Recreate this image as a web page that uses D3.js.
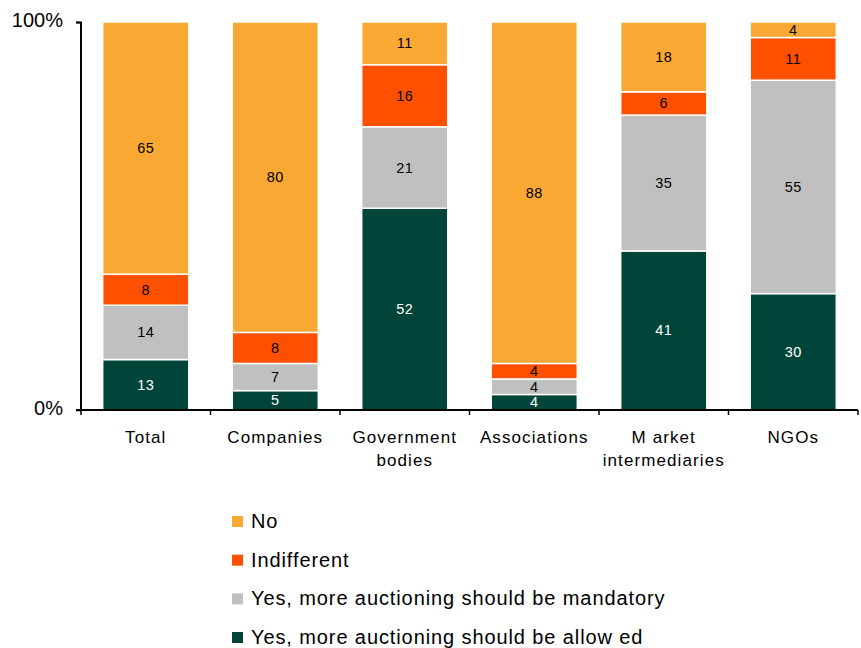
<!DOCTYPE html>
<html><head><meta charset="utf-8">
<script src="https://cdn.jsdelivr.net/npm/d3@7"></script>
<style>body{margin:0;background:#fff}svg{display:block;font-family:"Liberation Sans",Arial,sans-serif}</style>
</head><body><svg id="c" width="861" height="648"></svg>
<script>
const categories = ["Total", "Companies", "Government bodies", "Associations", "Market intermediaries", "NGOs"];
const categoryLines = [["Total"], ["Companies"], ["Government", "bodies"], ["Associations"], ["M arket", "intermediaries"], ["NGOs"]];
const seriesNames = ["Yes, more auctioning should be allowed", "Yes, more auctioning should be mandatory", "Indifferent", "No"];
const allowed   = [13, 5, 52, 4, 41, 30];
const mandatory = [14, 7, 21, 4, 35, 55];
const indifferent = [8, 8, 16, 4, 6, 11];
const no        = [65, 80, 11, 88, 18, 4];
const yTicks = [0, 100];
const colors = ["#00443A", "#C0C0C0", "#FF5000", "#F9A833"];
const labelColors = ["#fff", "#000", "#000", "#000"];
const legendNames = ["No", "Indifferent", "Yes, more auctioning should be mandatory", "Yes, more auctioning should be allow ed"];
const legendColors = ["#F9A833", "#FF5000", "#C0C0C0", "#00443A"];

const svg = d3.select("#c");
const x = d3.scaleBand().domain(categories).range([81, 858]).paddingInner(0.335).paddingOuter(0.1675);
const y = d3.scaleLinear().domain([0, 100]).range([410, 22]);

const rows = categories.map((c, i) => ({cat: c, v0: allowed[i], v1: mandatory[i], v2: indifferent[i], v3: no[i]}));
const stack = d3.stack().keys(["v0", "v1", "v2", "v3"])(rows);

stack.forEach((layer, si) => {
  const g = svg.append("g");
  g.selectAll("rect").data(layer).join("rect")
    .attr("x", d => x(d.data.cat))
    .attr("width", x.bandwidth())
    .attr("y", d => y(d[1]))
    .attr("height", d => y(d[0]) - y(d[1]))
    .attr("fill", colors[si])
    .attr("stroke", "#fff").attr("stroke-width", 1.5);
  g.selectAll("text").data(layer).join("text")
    .attr("x", d => x(d.data.cat) + x.bandwidth() / 2)
    .attr("y", d => (y(d[0]) + y(d[1])) / 2 + 5)
    .attr("text-anchor", "middle")
    .attr("font-size", 14.5)
    .attr("letter-spacing", 0.5)
    .attr("fill", labelColors[si])
    .text(d => d[1] - d[0]);
});

// y axis
const ya = svg.append("g").attr("transform", "translate(81,0)")
  .call(d3.axisLeft(y).tickValues(yTicks).tickFormat(d => d + "%").tickSize(5).tickPadding(13));
ya.select(".domain").attr("stroke", "#000").attr("stroke-width", 2).attr("d", "M-5,22.5H0V410");
ya.selectAll(".tick line").attr("stroke", "#000").attr("stroke-width", 1.5);
ya.selectAll(".tick text").attr("font-size", 20).attr("fill", "#000").attr("font-family", "Liberation Sans, Arial, sans-serif").attr("dy", "0.2em");

// x axis
const xa = svg.append("g");
xa.append("line").attr("x1", 76).attr("x2", 858).attr("y1", 410).attr("y2", 410).attr("stroke", "#000").attr("stroke-width", 2);
const bounds = categories.map(c => x(c) - x.step() * x.paddingInner() / 2).concat([x.range()[1]]);
xa.selectAll("line.t").data(bounds).join("line").attr("class", "t")
  .attr("x1", d => d).attr("x2", d => d).attr("y1", 410).attr("y2", 415)
  .attr("stroke", "#000").attr("stroke-width", 1.5);
categories.forEach((c, i) => {
  const cx = x(c) + x.bandwidth() / 2;
  const t = xa.append("text").attr("x", cx).attr("y", 443)
    .attr("text-anchor", "middle").attr("font-size", 17).attr("letter-spacing", 1.1).attr("fill", "#000");
  categoryLines[i].forEach((ln, j) => t.append("tspan").attr("x", cx).attr("dy", j ? 23 : 0).text(ln));
});

// legend
const lg = svg.append("g");
const ly = d3.scalePoint().domain(legendNames).range([521, 637]);
legendNames.forEach((n, i) => {
  lg.append("rect").attr("x", 232).attr("y", ly(n) - 5).attr("width", 11).attr("height", 11).attr("fill", legendColors[i]);
  lg.append("text").attr("x", 251).attr("y", ly(n) + 7).attr("font-size", 20).attr("letter-spacing", 0.9).attr("fill", "#000").text(n);
});
</script></body></html>
